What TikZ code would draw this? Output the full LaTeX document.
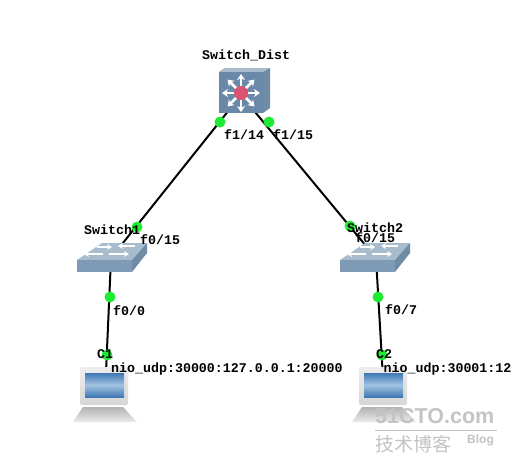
\documentclass[tikz,border=0pt]{standalone}
\usepackage{fontspec}
\setmonofont{Liberation Mono}
\newfontfamily\cjkfont{Noto Sans CJK SC}
\setsansfont{Liberation Sans}
\usepackage{xcolor}
\usetikzlibrary{arrows.meta, calc}
\definecolor{topface}{HTML}{A9BCCD}
\definecolor{frontface}{HTML}{7E9AB4}
\definecolor{sideface}{HTML}{6F8CA6}
\definecolor{distface}{HTML}{6A89A9}
\definecolor{portgreen}{HTML}{1EEB32}
\definecolor{markgray}{HTML}{C4C4C4}
\definecolor{hubred}{HTML}{DC5570}
\definecolor{screenblue}{HTML}{3F78B4}
\definecolor{screenpale}{HTML}{A3C3E2}
\tikzset{
	devlabel/.style={inner sep=0pt, anchor=west, font=\ttfamily\bfseries\fontsize{13.3}{14}\selectfont},
	port/.style={circle, fill=portgreen, inner sep=0pt, minimum size=11pt},
	link/.style={line width=2pt, black},
	swarrow/.style={white, line width=2pt, -{Stealth[length=5pt,width=6pt]}},
	distarrow/.style={white, line width=2.6pt, -{Stealth[length=6pt,width=8pt]}},
	pics/switchicon/.style={code={
		\fill[topface] (-34,2)--(-9,-15)--(36,-15)--(21,2)--cycle;
		\fill[frontface] (-34,2) rectangle (21,14);
		\fill[sideface] (21,2)--(36,-15)--(36,-5)--(21,14)--cycle;
		\draw[swarrow] (-14,-11)--(1,-11);
		\draw[swarrow] (24,-12)--(7,-12);
		\draw[swarrow] (-8,-4)--(-27,-4);
		\draw[swarrow] (-2,-4)--(18,-4);
	}},
	pics/pcicon/.style={code={
		\shade[top color=black!30, bottom color=black!8] (-22,12)--(18,12)--(32,27)--(-32,27)--cycle;
		\shade[top color=black!7, bottom color=black!16, rounded corners=2pt] (-25,-28) rectangle (23,10);
		\shade[shading angle=135, top color=screenblue, bottom color=screenblue, middle color=screenpale] (-20,-22) rectangle (19,2);
	}}
}
\begin{document}
\begin{tikzpicture}[x=1pt, y=-1pt]
	\useasboundingbox (0,0) rectangle (511,467);
	\fill[white] (0,0) rectangle (511,467);
	\coordinate (dist) at (241,95);
	\coordinate (sw1) at (111,258);
	\coordinate (sw2) at (376,258);
	\coordinate (pc1) at (105,395);
	\coordinate (pc2) at (384,395);
	\draw[link] (dist)--(sw1);
	\draw[link] (dist)--(sw2);
	\draw[link] (sw1)--(pc1);
	\draw[link] (sw2)--(pc2);
	% devices
	\fill[sideface] (263,113)--(270,108)--(270,68)--(225,68)--(219,72)--cycle;
	\fill[topface] (219,72)--(225,68)--(270,68)--(263,72)--cycle;
	\fill[distface] (219,72) rectangle (263,113);
	\foreach \ang in {0,45,...,315} {
		\draw[distarrow] (241,93)--++(\ang:19);
	}
	\fill[hubred] (241,93) circle (7);
	\pic at (sw1) {switchicon};
	\pic at ($(sw2)+(-2,0)$) {switchicon};
	\pic at (pc1) {pcicon};
	\pic at (pc2) {pcicon};
	% ports
	\node[port] (p14) at (220,122) {};
	\node[port] (p15) at (269,122) {};
	\node[port] (q15) at (137,227) {};
	\node[port] (r15) at (350,226) {};
	\node[port] (q0) at (110,297) {};
	\node[port] (r7) at (378,297) {};
	\node[port] (c1p) at (107,355) {};
	\node[port] (c2p) at (382,355) {};
	% labels
	\node[devlabel] (ldist) at (202,55) {Switch\_Dist};
	\node[devlabel] (lf14) at (224,135) {f1/14};
	\node[devlabel] (lf15) at (273,135) {f1/15};
	\node[devlabel] (lsw1) at (84,230) {Switch1};
	\node[devlabel] (lq15) at (140,240) {f0/15};
	\node[devlabel] (lsw2) at (347,228) {Switch2};
	\node[devlabel] (lr15) at (355,238) {f0/15};
	\node[devlabel] (lq0) at (113,311) {f0/0};
	\node[devlabel] (lr7) at (385,310) {f0/7};
	\node[devlabel] (lc1) at (97,354) {C1};
	\node[devlabel] (lc2) at (376,354) {C2};
	\node[devlabel] (lnio1) at (111,369) {nio\_udp:30000:127.0.0.1:20000};
	\node[devlabel] (lnio2) at (383.5,369) {nio\_udp:30001:12};
	% watermark
	\node[markgray, inner sep=0pt, anchor=west, font=\sffamily\bfseries\fontsize{21.5}{22}\selectfont] (wm) at (375,416) {51CTO.com};
	\draw[markgray, line width=1pt] (375,430)--(497,430);
	\node[markgray, inner sep=0pt, anchor=west, font=\cjkfont\fontsize{19}{19}\selectfont] (wmcn) at (375,444) {技术博客};
	\node[markgray, inner sep=0pt, anchor=west, font=\sffamily\bfseries\fontsize{12}{12}\selectfont] (wmblog) at (467,440) {Blog};
\end{tikzpicture}
\end{document}
